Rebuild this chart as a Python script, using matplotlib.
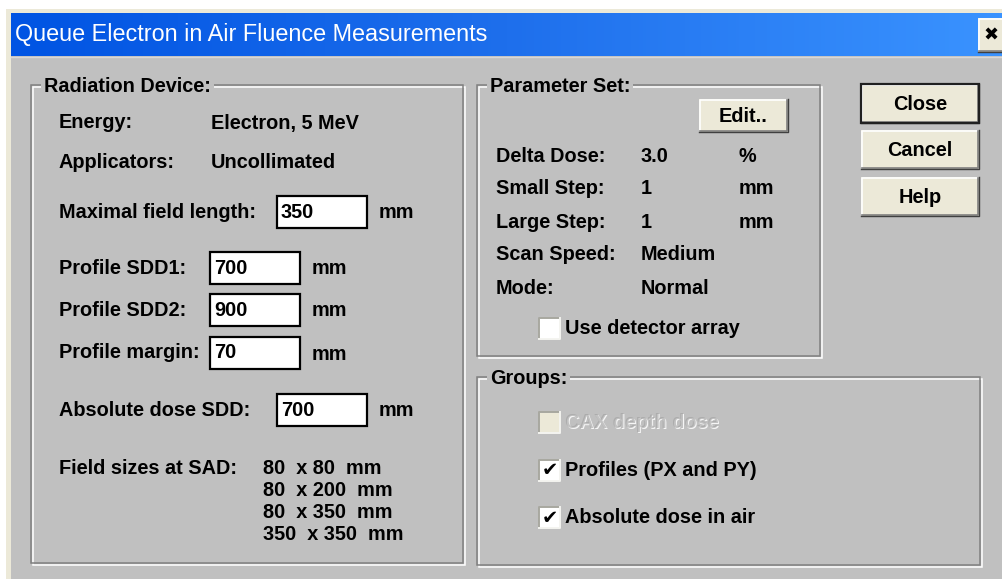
import numpy as np
import matplotlib.pyplot as plt
from matplotlib.patches import Rectangle
from matplotlib.colors import LinearSegmentedColormap

# dialog content
title = 'Queue Electron in Air Fluence Measurements'
device_labels = ['Energy:', 'Applicators:']
device_values = ['Electron, 5 MeV', 'Uncollimated']
input_labels = ['Maximal field length:', 'Profile SDD1:', 'Profile SDD2:',
                'Profile margin:', 'Absolute dose SDD:']
input_values = ['350', '700', '900', '70', '700']
input_units = ['mm', 'mm', 'mm', 'mm', 'mm']
field_label = 'Field sizes at SAD:'
field_sizes = ['80  x 80  mm', '80  x 200  mm', '80  x 350  mm', '350  x 350  mm']
param_labels = ['Delta Dose:', 'Small Step:', 'Large Step:', 'Scan Speed:', 'Mode:']
param_values = ['3.0', '1', '1', 'Medium', 'Normal']
param_units = ['%', 'mm', 'mm', '', '']
group_items = ['CAX depth dose', 'Profiles (PX and PY)', 'Absolute dose in air']
group_checked = [False, True, True]
group_enabled = [False, True, True]
button_labels = ['Close', 'Cancel', 'Help']

GREY = '#C0C0C0'
BEIGE = '#ECE9D8'
FONT = 'Liberation Sans'
FS = 14.3

fig = plt.figure(figsize=(10.03, 5.79), dpi=100)
ax = fig.add_axes([0, 0, 1, 1])
ax.set_xlim(0, 1003)
ax.set_ylim(579, 0)
ax.axis('off')
fig.patch.set_facecolor('white')

# window frame and body
ax.add_patch(Rectangle((6, 9), 1003, 600, fc=BEIGE, ec='none'))
ax.add_patch(Rectangle((11, 56), 1000, 600, fc=GREY, ec='none'))
ax.plot([11, 1003], [57, 57], color='#D8D8D8', lw=1)

# title bar gradient
cmap = LinearSegmentedColormap.from_list('xp', ['#0054E3', '#1E6FEC', '#3A93FF'])
ax.imshow(np.linspace(0, 1, 256)[None, :], cmap=cmap, aspect='auto',
          extent=[11, 1003, 56, 13], zorder=1)
ax.text(15, 35, title, color='white', fontsize=16.8, family=FONT,
        va='center', ha='left', zorder=3)


def button(x0, y0, x1, y1, label, default=False, fs=FS, family=FONT, dx=0):
    ax.add_patch(Rectangle((x0, y0), x1 - x0, y1 - y0, fc=BEIGE, ec='none', zorder=2))
    ax.plot([x0 + 1, x0 + 1, x1 - 1], [y1 - 1, y0 + 1, y0 + 1], color='white', lw=1.2, zorder=3)
    ax.plot([x0 + 1, x1 - 1, x1 - 1], [y1 - 1, y1 - 1, y0 + 1], color='#808080', lw=1.2, zorder=3)
    ax.plot([x0, x1, x1], [y1, y1, y0], color='#404040', lw=1.0, zorder=3)
    if default:
        ax.add_patch(Rectangle((x0, y0), x1 - x0, y1 - y0, fc='none', ec='#202020',
                               lw=1.6, zorder=4))
    ax.text((x0 + x1) / 2 + dx, (y0 + y1) / 2 + 1, label, fontsize=fs, family=family,
            weight='bold', ha='center', va='center', zorder=5)


def frame(x0, y0, x1, y1, label):
    ax.add_patch(Rectangle((x0 + 2, y0 + 2), x1 - x0, y1 - y0, fc='none', ec='white', lw=1.1))
    ax.add_patch(Rectangle((x0, y0), x1 - x0, y1 - y0, fc='none', ec='#808080', lw=1.1))
    ax.text(x0 + 13, y0 + 1, label, fontsize=FS, family=FONT, weight='bold', va='center',
            ha='left', bbox=dict(fc=GREY, ec='none', pad=2), zorder=3)


def label(x, y, s, **kw):
    ax.text(x, y, s, fontsize=FS, family=FONT, weight='bold', va='center', ha='left', **kw)


def edit_box(x0, y0, x1, y1, value):
    ax.add_patch(Rectangle((x0, y0), x1 - x0, y1 - y0, fc='white', ec='black', lw=1.6, zorder=2))
    ax.text(x0 + 4, (y0 + y1) / 2, value, fontsize=FS, family=FONT, weight='bold',
            va='center', ha='left', zorder=3)


def checkbox(x0, y0, s, checked, enabled):
    size = 21
    ax.add_patch(Rectangle((x0, y0), size, size, fc='white' if enabled else BEIGE,
                           ec='none', zorder=2))
    ax.plot([x0, x0, x0 + size], [y0 + size, y0, y0], color='#A8A8A0', lw=1.4, zorder=3)
    ax.plot([x0, x0 + size, x0 + size], [y0 + size, y0 + size, y0], color='#F4F4F0', lw=1.4, zorder=3)
    if checked:
        ax.text(x0 + size / 2, y0 + size / 2 + 1, '\u2714', fontsize=14,
                family=['DejaVu Sans'], ha='center', va='center', zorder=4)
    yc = y0 + size / 2
    if enabled:
        label(x0 + 26, yc, s)
    else:
        label(x0 + 27, yc + 1, s, color='#F6F6F6')
        label(x0 + 26, yc, s, color='#A0A0A0', alpha=0.6)


# Radiation Device group
frame(31, 85, 463, 563, 'Radiation Device:')
for i, (lab, val) in enumerate(zip(device_labels, device_values)):
    y = [123, 162][i]
    label(59, y, lab)
    label(211, y, val)

row_y = [212, 268, 310, 353, 410]
box_x = [277, 210, 210, 210, 277]
for lab, val, unit, y, bx in zip(input_labels, input_values, input_units, row_y, box_x):
    label(59, y, lab)
    edit_box(bx, y - 16, bx + 90, y + 16, val)
    label(bx + 102, y + 1, unit)

label(59, 469, field_label)
for i, fs_txt in enumerate(field_sizes):
    label(263, 469 + 22 * i, fs_txt)

# Parameter Set group
frame(477, 85, 820, 356, 'Parameter Set:')
button(699, 99, 788, 132, 'Edit..')
param_y = [156, 189, 223, 255, 288]
for lab, val, unit, y in zip(param_labels, param_values, param_units, param_y):
    label(496, y, lab)
    label(641, y, val)
    if unit:
        label(739, y, unit)
checkbox(539, 318, 'Use detector array', False, True)

# Groups group
frame(477, 377, 980, 565, 'Groups:')
for i, (item, chk, en) in enumerate(zip(group_items, group_checked, group_enabled)):
    checkbox(539, 412 + 47.5 * i, item, chk, en)

# buttons on the right
btn_y = [84, 130, 177]
for i, b in enumerate(button_labels):
    button(861, btn_y[i], 979, btn_y[i] + 39, b, default=(i == 0))

# close "x" on the title bar
button(978, 18, 1012, 52, '\u2716', fs=13, family=['DejaVu Sans'], dx=-4)

fig.savefig('out.png', dpi=100, facecolor='white')
